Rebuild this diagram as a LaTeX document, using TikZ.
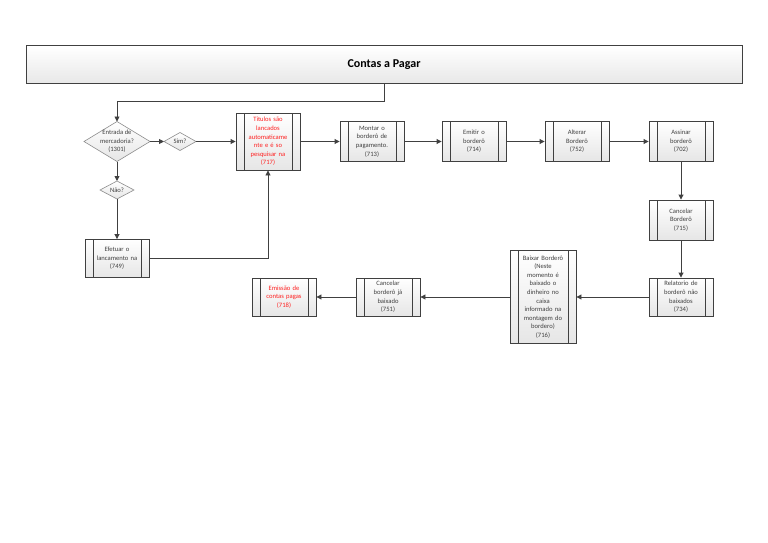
\documentclass[tikz,border=0pt]{standalone}
\usepackage{fontspec}
\setmainfont{Carlito}
\usetikzlibrary{shapes.geometric,arrows.meta,calc}
\definecolor{edgec}{HTML}{404040}
\definecolor{fillb}{HTML}{E6E6E6}
\definecolor{redt}{HTML}{FF2020}
\tikzset{
  proc/.style={draw=edgec, line width=0.9pt, top color=white, bottom color=fillb,
    minimum width=64pt, minimum height=40pt, inner sep=1pt, text width=46pt, align=center,
    font=\fontsize{6.6}{8.6}\selectfont, text=black!75,
    path picture={\draw[edgec, line width=0.7pt]
      ([xshift=8pt]path picture bounding box.north west) -- ([xshift=8pt]path picture bounding box.south west);
      \draw[edgec, line width=0.7pt]
      ([xshift=-8pt]path picture bounding box.north east) -- ([xshift=-8pt]path picture bounding box.south east);}},
  dec/.style={diamond, draw=black!45, line width=0.6pt, top color=white, bottom color=fillb,
    inner sep=0pt, outer sep=0pt},
  dectext/.style={align=center, inner sep=0pt, font=\fontsize{6.6}{8.6}\selectfont, text=black!75},
  conn/.style={draw=edgec, line width=0.9pt, -{Triangle[length=5pt,width=5pt]}},
  plain/.style={draw=edgec, line width=0.9pt}
}
\begin{document}
\begin{tikzpicture}[x=1pt,y=-1pt]
\useasboundingbox (0,0) rectangle (768,543);
% title
\node[draw=edgec, line width=1pt, top color=white, bottom color=black!9, minimum width=716pt, minimum height=37pt,
  font=\fontsize{12}{14}\selectfont\bfseries] (title) at (384,64.5) {Contas a Pagar};
% decisions
\node[dec, minimum width=66pt, minimum height=40pt] (d1) at (117,141.5) {};
\node[dectext] (d1t) at (117,141.5) {Entrada de\\mercadoria?\\(1301)};
\node[dec, minimum width=32pt, minimum height=18pt] (sim) at (180,141.5) {};
\node[dectext] (simt) at (180,141.5) {Sim?};
\node[dec, minimum width=34pt, minimum height=18pt] (nao) at (117,190) {};
\node[dectext] (naot) at (117,190) {Não?};
% processes
\node[proc, minimum height=57pt, text=redt] (p717) at (268,141.5) {Titulos são\\lancados\\automaticame\\nte e é so\\pesquisar na\\(717)};
\node[proc, minimum height=38pt] (p749) at (117,258.5) {Efetuar o\\lancamento na\\(749)};
\node[proc] (p713) at (372,141.5) {Montar o\\borderô de\\pagamento.\\(713)};
\node[proc] (p714) at (474,141.5) {Emitir o\\borderô\\(714)};
\node[proc] (p752) at (577,141.5) {Alterar\\Borderô\\(752)};
\node[proc] (p702) at (681,141.5) {Assinar\\borderô\\(702)};
\node[proc] (p715) at (681,220) {Cancelar\\Borderô\\(715)};
\node[proc, minimum height=38pt] (p734) at (681,297) {Relatorio de\\borderô não\\baixados\\(734)};
\node[proc, minimum width=66pt, minimum height=93pt] (p716) at (543,297) {Baixar Borderô\\(Neste\\momento é\\baixado o\\dinheiro no\\caixa\\informado na\\montagem do\\bordero)\\(716)};
\node[proc, minimum height=38pt] (p751) at (388,297) {Cancelar\\borderô já\\baixado\\(751)};
\node[proc, minimum height=38pt, text=redt] (p718) at (284,297) {Emissão de\\contas pagas\\(718)};
% connectors
\draw[conn] (title.south) -- ++(0,18) -| (d1.north);
\draw[conn] (d1.east) -- (sim.west);
\draw[conn] (sim.east) -- (p717.west);
\draw[conn] (d1.south) -- (nao.north);
\draw[conn] (nao.south) -- (p749.north);
\draw[conn] (p749.east) -| (p717.south);
\draw[conn] (p717.east) -- (p713.west);
\draw[conn] (p713.east) -- (p714.west);
\draw[conn] (p714.east) -- (p752.west);
\draw[conn] (p752.east) -- (p702.west);
\draw[conn] (p702.south) -- (p715.north);
\draw[conn] (p715.south) -- (p734.north);
\draw[conn] (p734.west) -- (p716.east);
\draw[conn] (p716.west) -- (p751.east);
\draw[conn] (p751.west) -- (p718.east);
\end{tikzpicture}
\end{document}
